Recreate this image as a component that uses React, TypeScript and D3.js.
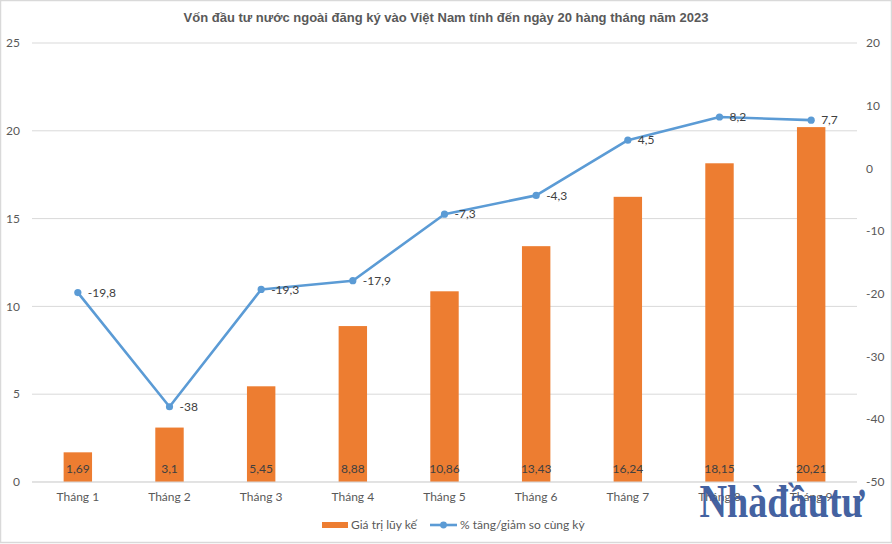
import React from "react";
import * as d3 from "d3";

const categories = ["Tháng 1", "Tháng 2", "Tháng 3", "Tháng 4", "Tháng 5", "Tháng 6", "Tháng 7", "Tháng 8", "Tháng 9"];
const cumulativeValues = [1.69, 3.1, 5.45, 8.88, 10.86, 13.43, 16.24, 18.15, 20.21];
const growthValues = [-19.8, -38, -19.3, -17.9, -7.3, -4.3, 4.5, 8.2, 7.7];
const leftTicks = [0, 5, 10, 15, 20, 25];
const rightTicks = [-50, -40, -30, -20, -10, 0, 10, 20];
const title = "Vốn đầu tư nước  ngoài đăng ký vào Việt Nam tính đến ngày 20 hàng tháng năm 2023";
const legendBar = "Giá trị lũy kế";
const legendLine = "% tăng/giảm so cùng kỳ";

const W = 892;
const H = 544;
const plotL = 32;
const plotR = 857;
const plotT = 43;
const plotB = 482;
const ORANGE = "#ed7d31";
const BLUE = "#5b9bd5";
const TXT = "#595959";
const FONT = "Lato, 'Open Sans', sans-serif";

const fmt = (v: number) => String(v).replace(".", ",");

export default function App() {
  const x = d3.scaleBand<string>().domain(categories).range([plotL, plotR]).paddingInner(0).paddingOuter(0);
  const yL = d3.scaleLinear().domain([0, 25]).range([plotB, plotT]);
  const yR = d3.scaleLinear().domain([-50, 20]).range([plotB, plotT]);
  const bw = x.bandwidth() * 0.31;
  const cx = (c: string) => (x(c) as number) + x.bandwidth() / 2;
  const line = d3
    .line<number>()
    .x((_, i) => cx(categories[i]))
    .y((v) => yR(v));

  return (
    <svg width={W} height={H} style={{ position: "absolute", left: 0, top: 0, background: "#fff" }}>
      <rect x={0.5} y={0.5} width={W - 1} height={H - 2} fill="#fff" stroke="#d9d9d9" strokeWidth={1.5} />
      <text x={W / 2} y={22} textAnchor="middle" fontFamily="'Liberation Sans', Arial, sans-serif" fontWeight="bold" fontSize={13} fill={TXT}>
        {title}
      </text>
      {leftTicks.map((t) => (
        <line key={"g" + t} x1={plotL} x2={plotR} y1={yL(t)} y2={yL(t)} stroke="#d9d9d9" strokeWidth={1} />
      ))}
      {leftTicks.map((t) => (
        <text key={"l" + t} x={20} y={yL(t)} dy="0.35em" textAnchor="end" fontFamily={FONT} fontSize={12} fill={TXT}>
          {t}
        </text>
      ))}
      {rightTicks.map((t) => (
        <text key={"r" + t} x={866} y={yR(t)} dy="0.35em" textAnchor="start" fontFamily={FONT} fontSize={12} fill={TXT}>
          {t}
        </text>
      ))}
      {categories.map((c, i) => (
        <g key={c}>
          <rect x={cx(c) - bw / 2} y={yL(cumulativeValues[i])} width={bw} height={plotB - yL(cumulativeValues[i])} fill={ORANGE} />
          <text x={cx(c)} y={469} dy="0.35em" textAnchor="middle" fontFamily={FONT} fontSize={12} fill="#404040">
            {fmt(cumulativeValues[i])}
          </text>
          <text x={cx(c)} y={497} dy="0.35em" textAnchor="middle" fontFamily={FONT} fontSize={12} fill={TXT}>
            {c}
          </text>
        </g>
      ))}
      <line x1={plotL} x2={plotR} y1={plotB} y2={plotB} stroke="#d9d9d9" strokeWidth={1} />
      <path d={line(growthValues) || ""} fill="none" stroke={BLUE} strokeWidth={2.6} strokeLinejoin="round" />
      {categories.map((c, i) => (
        <g key={"p" + c}>
          <circle cx={cx(c)} cy={yR(growthValues[i])} r={3.6} fill={BLUE} />
          <text x={cx(c) + 10} y={yR(growthValues[i])} dy="0.35em" textAnchor="start" fontFamily={FONT} fontSize={12} fill="#404040">
            {fmt(growthValues[i])}
          </text>
        </g>
      ))}
      <g>
        <rect x={322} y={522} width={26} height={6} fill={ORANGE} />
        <text x={351} y={525} dy="0.35em" fontFamily={FONT} fontSize={12} fill={TXT}>
          {legendBar}
        </text>
        <line x1={430} x2={457} y1={525} y2={525} stroke={BLUE} strokeWidth={2.6} />
        <circle cx={443.5} cy={525} r={3.4} fill={BLUE} />
        <text x={460} y={525} dy="0.35em" fontFamily={FONT} fontSize={12} fill={TXT}>
          {legendLine}
        </text>
      </g>
      <text
        x={782}
        y={517}
        textAnchor="middle"
        fontFamily="'Liberation Serif', 'DejaVu Serif', serif"
        fontWeight="bold"
        fontSize={46}
        fill="#3a5a9c"
        textLength={165}
        lengthAdjust="spacingAndGlyphs"
        opacity={0.95}
      >
        Nhàđầutư
      </text>
    </svg>
  );
}
